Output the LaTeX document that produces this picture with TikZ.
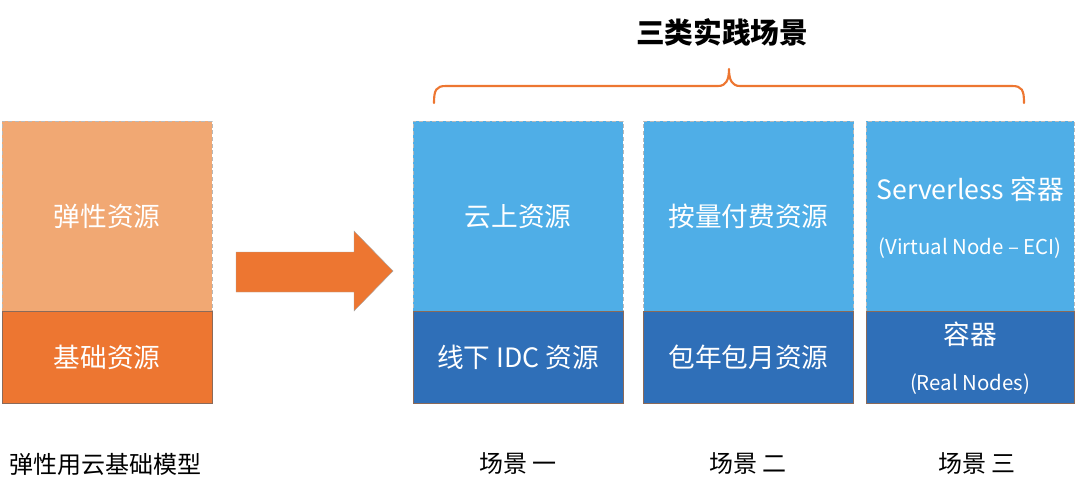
\documentclass[tikz,border=0pt]{standalone}
\usepackage{fontspec}
\setmainfont{Noto Sans CJK SC}
\newfontfamily\cjk{Noto Sans CJK SC}
\definecolor{lorange}{HTML}{F1A873}
\definecolor{dorange}{HTML}{ED7631}
\definecolor{lblue}{HTML}{4FAEE7}
\definecolor{dblue}{HTML}{2F6FB8}
\definecolor{edgebrown}{HTML}{8A6A5A}
\tikzset{
  topbox/.style={draw=gray!55, densely dashed, line width=0.4pt, minimum width=210*0.75pt, minimum height=190*0.75pt, inner sep=0pt},
  botbox/.style={draw=edgebrown, line width=0.4pt, minimum width=210*0.75pt, minimum height=92*0.75pt, inner sep=0pt},
  boxtext/.style={text=white, font=\cjk\fontsize{20}{24}\selectfont, inner sep=0pt},
  smalltext/.style={text=white, font=\cjk\fontsize{15.3}{18}\selectfont, inner sep=0pt},
  captext/.style={text=black, font=\cjk\fontsize{18}{22}\selectfont, inner sep=0pt},
}
\begin{document}
\begin{tikzpicture}[x=0.75pt,y=-0.75pt]
\useasboundingbox (0,0) rectangle (1080,489);
% left model
\node[topbox, fill=lorange] (lt) at (107,216) {};
\node[botbox, fill=dorange] (lb) at (107,357) {};
\node[boxtext] (ltt) at (lt) {弹性资源};
\node[boxtext] (lbt) at (lb) {基础资源};
% arrow
\fill[dorange, draw=gray!70, line width=0.3pt] (236,252) -- (354,252) -- (354,231) -- (393,271) -- (354,311) -- (354,292) -- (236,292) -- cycle;
% scenario 1
\node[topbox, fill=lblue] (t1) at (518,216) {};
\node[botbox, fill=dblue] (b1) at (518,357) {};
\node[boxtext] (t1t) at (t1) {云上资源};
\node[boxtext] (b1t) at (b1) {线下 IDC 资源};
% scenario 2
\node[topbox, fill=lblue] (t2) at (748.5,216) {};
\node[botbox, fill=dblue] (b2) at (748.5,357) {};
\node[boxtext] (t2t) at (t2) {按量付费资源};
\node[boxtext] (b2t) at (b2) {包年包月资源};
% scenario 3
\node[topbox, fill=lblue, minimum width=208*0.75pt] (t3) at (970,216) {};
\node[botbox, fill=dblue, minimum width=208*0.75pt] (b3) at (970,357) {};
\node[boxtext] (t3a) at (970,189) {Serverless 容器};
\node[smalltext] (t3b) at (970,248) {(Virtual Node – ECI)};
\node[boxtext] (b3a) at (970,334) {容器};
\node[smalltext] (b3b) at (970,384) {(Real Nodes)};
% brace and title
\draw[dorange, line width=1.6pt, line cap=round, line join=round]
  (434,103) .. controls (434,90) and (436,86) .. (446,86) -- (718,86)
  .. controls (726,86) and (729,80) .. (729,69)
  .. controls (729,80) and (732,86) .. (740,86) -- (1012,86)
  .. controls (1022,86) and (1024,90) .. (1024,103);
\node[text=black, font=\cjk\bfseries\fontsize{21.5}{26}\selectfont, inner sep=0pt] (title) at (722,32) {三类实践场景};
% captions
\node[captext] (c0) at (105,464) {弹性用云基础模型};
\node[captext] (c1) at (518,464) {场景 一};
\node[captext] (c2) at (748,464) {场景 二};
\node[captext] (c3) at (977,464) {场景 三};
\end{tikzpicture}
\end{document}
